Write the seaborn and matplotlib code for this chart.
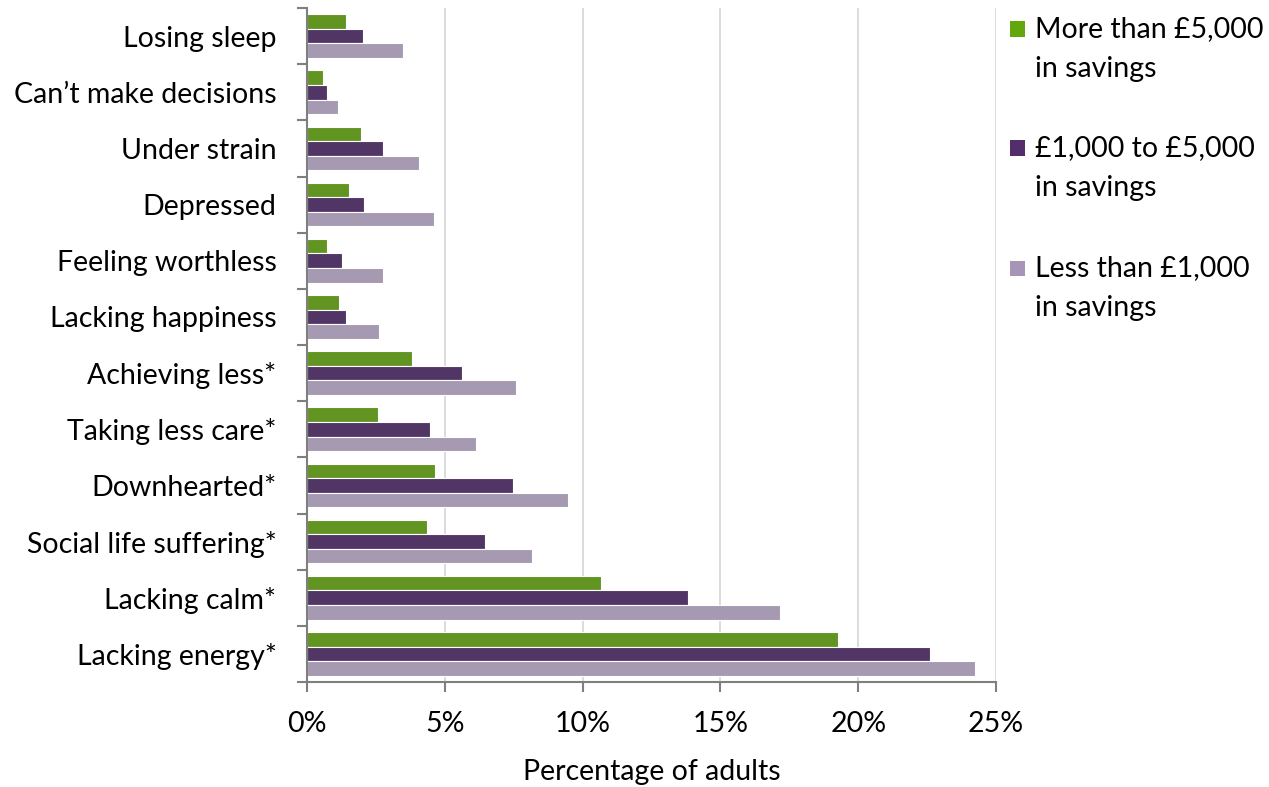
import matplotlib
matplotlib.use("Agg")
import matplotlib.pyplot as plt
from matplotlib.patches import Rectangle
from matplotlib.ticker import FixedLocator, PercentFormatter
import seaborn as sns
import pandas as pd

# Symptoms, listed top to bottom
symptoms = [
    "Losing sleep", "Can\u2019t make decisions", "Under strain", "Depressed",
    "Feeling worthless", "Lacking happiness", "Achieving less*",
    "Taking less care*", "Downhearted*", "Social life suffering*",
    "Lacking calm*", "Lacking energy*",
]

groups = [
    "More than \u00a35,000\nin savings",
    "\u00a31,000 to \u00a35,000\nin savings",
    "Less than \u00a31,000\nin savings",
]

# Percentage of adults reporting each symptom, by savings group
more_than_5000 = [1.42, 0.57, 1.96, 1.54, 0.71, 1.17, 3.82, 2.57, 4.65, 4.36, 10.67, 19.26]
between_1000_5000 = [2.05, 0.71, 2.76, 2.06, 1.27, 1.42, 5.64, 4.47, 7.48, 6.46, 13.83, 22.59]
less_than_1000 = [3.49, 1.13, 4.05, 4.60, 2.75, 2.60, 7.57, 6.15, 9.48, 8.17, 17.16, 24.25]

colors = ["#63a70d", "#532d6c", "#a695b6"]

df = pd.DataFrame({
    "symptom": symptoms * 3,
    "group": [groups[0]] * 12 + [groups[1]] * 12 + [groups[2]] * 12,
    "value": more_than_5000 + between_1000_5000 + less_than_1000,
})

sns.set_theme(style="white")
plt.rcParams["font.family"] = ["Lato", "DejaVu Sans"]
FS = 20.5

fig = plt.figure(figsize=(12.69, 7.87), dpi=100)
ax = fig.add_axes([307 / 1269, 105 / 787, 689 / 1269, 674 / 787])

sns.barplot(
    data=df, y="symptom", x="value", hue="group",
    order=symptoms, hue_order=groups, palette=colors,
    orient="h", width=0.78, edgecolor="white", linewidth=0.8,
    legend=False, ax=ax,
)

ax.set_xlim(0, 25)
ax.set_ylim(len(symptoms) - 0.5, -0.5)
ax.xaxis.set_major_locator(FixedLocator([0, 5, 10, 15, 20, 25]))
ax.xaxis.set_major_formatter(PercentFormatter(decimals=0))
ax.grid(axis="x", color="#d9d9d9", linewidth=1.3)
ax.set_axisbelow(True)

for side in ["top", "right"]:
    ax.spines[side].set_visible(False)
for side in ["left", "bottom"]:
    ax.spines[side].set_color("#7f7f7f")
    ax.spines[side].set_linewidth(1.5)

# Category ticks sit between groups, x ticks point down
ax.yaxis.set_minor_locator(FixedLocator([i - 0.5 for i in range(len(symptoms) + 1)]))
ax.tick_params(axis="y", which="major", length=0, pad=22, labelsize=FS, colors="#000000")
ax.tick_params(axis="y", which="minor", left=True, length=7, width=1.5, color="#7f7f7f")
ax.tick_params(axis="x", which="major", bottom=True, length=7, width=1.5, color="#7f7f7f",
               pad=14, labelsize=FS, labelcolor="#000000")

ax.set_ylabel("")
ax.set_xlabel("Percentage of adults", fontsize=FS, labelpad=16, color="#000000")

# Legend on the right: square key aligned with the first text line
legend_centers = [29, 148, 268]
for color, label, yc in zip(colors, groups, legend_centers):
    fig.patches.append(Rectangle((1010 / 1269, (787 - yc - 7.5) / 787), 15 / 1269, 15 / 787,
                                 transform=fig.transFigure, facecolor=color, edgecolor="none"))
    fig.text(1035 / 1269, (787 - yc + 13) / 787, label, fontsize=FS, va="top", ha="left",
             linespacing=1.65, color="#000000")

fig.savefig("out.png", dpi=100)
